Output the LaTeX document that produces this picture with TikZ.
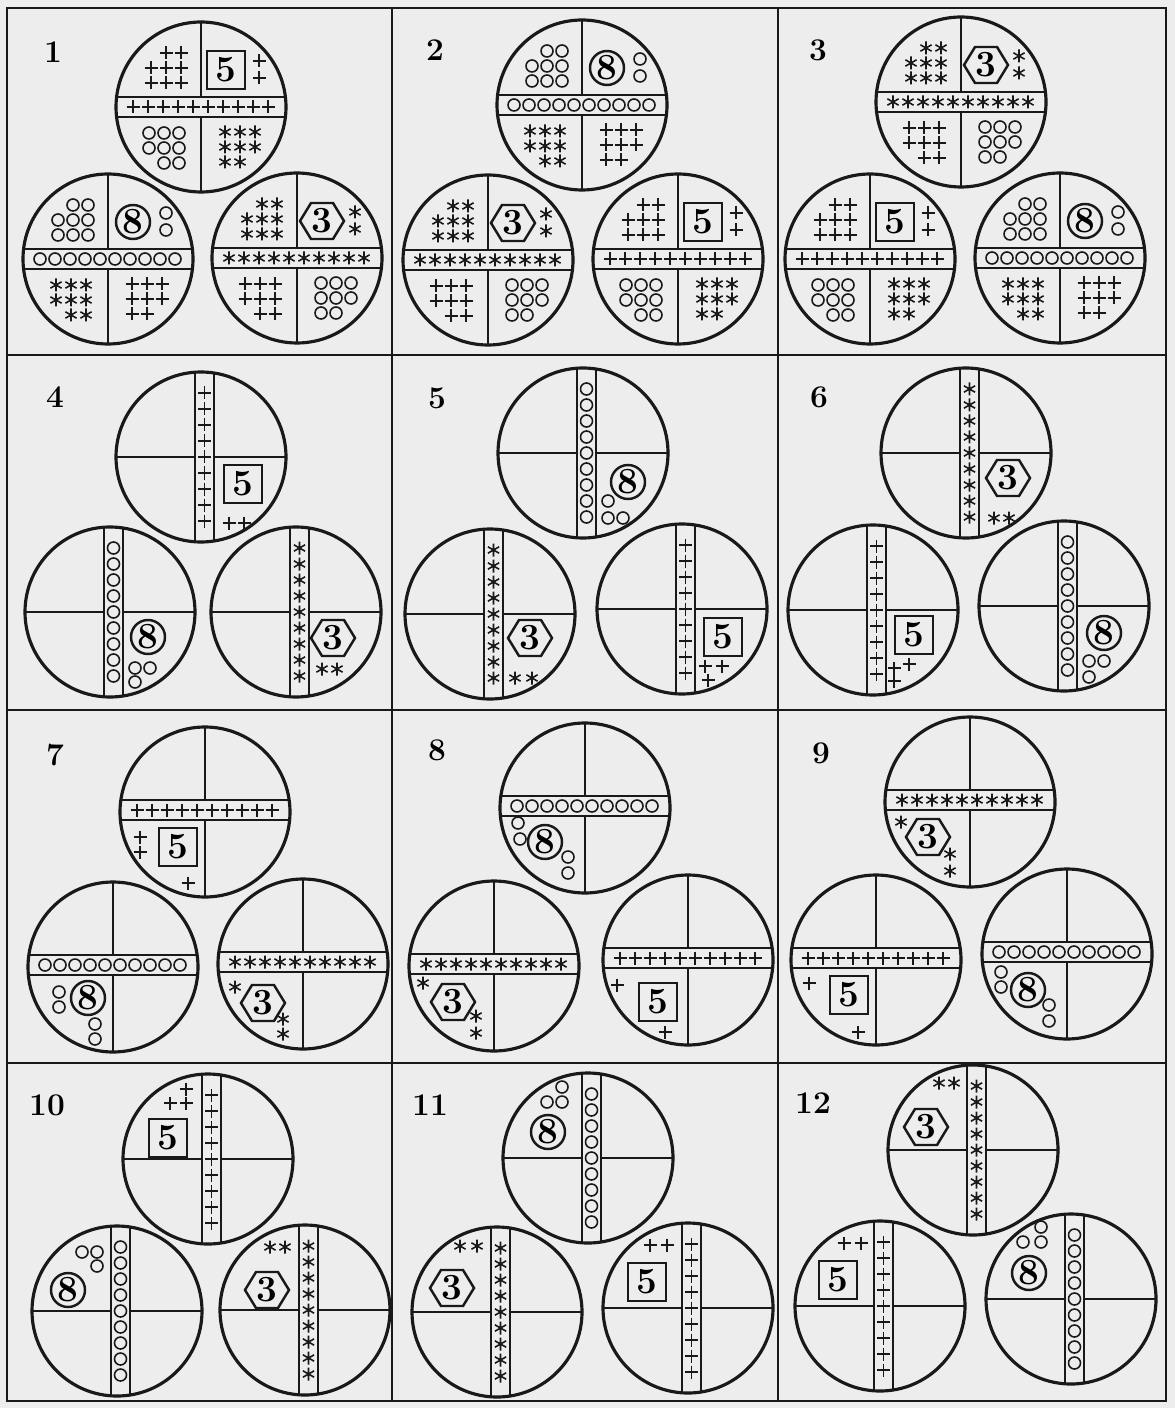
\documentclass[tikz,border=0pt]{standalone}
\usepackage{tikz}
\usetikzlibrary{calc}

% disc cut by a horizontal band (#2 = offset of the band from the centre)
\newcommand{\hdisc}[6]{%
  \begin{scope}[shift={#1}]
    \begin{scope}
      \clip (0,0) circle (85);
      \draw[bar] (-90,#2-10) -- (90,#2-10) (-90,#2+10) -- (90,#2+10)
        (0,-90) -- (0,#2-10) (0,#2+10) -- (0,90);
    \end{scope}
    \draw[rim] (0,0) circle (85);
    \foreach \i in {0,...,9} \pic at (-68+15*\i,#2) {#3};
    \pic at #5 {#4};
    \foreach \x/\y in {#6} \pic at (\x,\y) {#3};
  \end{scope}}

% disc cut by a vertical band just right of the centre
\newcommand{\vdisc}[5]{%
  \begin{scope}[shift={#1}]
    \begin{scope}
      \clip (0,0) circle (85);
      \draw[bar] (-6,-90) -- (-6,90) (13,-90) -- (13,90)
        (-90,0) -- (-6,0) (13,0) -- (90,0);
    \end{scope}
    \draw[rim] (0,0) circle (85);
    \foreach \i in {0,...,8} \pic at (3.5,-64+16*\i) {#2};
    \pic at #4 {#3};
    \foreach \x/\y in {#5} \pic at (\x,\y) {#2};
  \end{scope}}

% full disc of the first row: theme, badge, lower left, lower right
\newcommand{\qdisc}[5]{%
  \hdisc{#1}{0}{#2}{#3}{(25,-37)}{58/-46,58/-29}%
  \begin{scope}[shift={#1}]
    \foreach \x/\y in {-35/-54,-20/-54,-50/-39,-35/-39,-20/-39,-50/-24,-35/-24,-20/-24}
      \pic at (\x,\y) {#2};
    \foreach \x/\y in {-52/26,-37/26,-22/26,-52/41,-37/41,-22/41,-37/56,-22/56}
      \pic at (\x,\y) {#4};
    \foreach \x/\y in {24/25,39/25,54/25,24/40,39/40,54/40,24/55,39/55}
      \pic at (\x,\y) {#5};
  \end{scope}}

\begin{document}
\begin{tikzpicture}[x=0.02cm, y=-0.02cm,
  rim/.style={line width=1.8pt, black!90},
  bar/.style={line width=1.4pt, black!90},
  sym/.style={line width=0.9pt, black!90},
  frame/.style={line width=1.4pt, black!90},
  digit/.style={font=\fontsize{21}{21}\selectfont\bfseries, inner sep=0pt},
  num/.style={font=\fontsize{18}{18}\selectfont\bfseries, inner sep=0pt},
  plus/.pic={\draw[sym] (-6.5,0) -- (6.5,0) (0,-6.5) -- (0,6.5);},
  ring/.pic={\draw[sym] (0,0) circle (6);},
  star/.pic={\draw[sym] (0,-6.5) -- (0,6.5) (-5.6,-3.2) -- (5.6,3.2) (-5.6,3.2) -- (5.6,-3.2);},
  boxfive/.pic={\draw[bar] (-19,-19) rectangle (19,19); \node[digit] (five) {5};},
  ringeight/.pic={\draw[bar] (0,0) circle (17); \node[digit] (eight) {8};},
  hexthree/.pic={\draw[bar] (-22,0) -- (-11,-18) -- (11,-18) -- (22,0) -- (11,18)
    -- (-11,18) -- cycle; \node[digit] (three) {3};},
]
\useasboundingbox (0,0) rectangle (1175,1408);
\fill[black!7] (0,0) rectangle (1175,1408);

% frame of the twelve panels
\draw[frame] (7,8) rectangle (1166,1401);
\foreach \x in {392,778} \draw[frame] (\x,8) -- (\x,1401);
\foreach \y in {355,710,1063} \draw[frame] (7,\y) -- (1166,\y);

% panel numbers
\foreach \n/\x/\y in {1/53/52,2/435/50,3/818/50,4/55/397,5/437/398,6/819/397,
    7/55/755,8/437/750,9/821/753,10/47/1105,11/430/1105,12/813/1103}
  \node[num] (n\n) at (\x,\y) {\n};

% row 1
\qdisc{(201,107)}{plus}{boxfive}{ring}{star}
\qdisc{(108,259)}{ring}{ringeight}{star}{plus}
\qdisc{(297,258)}{star}{hexthree}{plus}{ring}
\qdisc{(582,105)}{ring}{ringeight}{star}{plus}
\qdisc{(488,260)}{star}{hexthree}{plus}{ring}
\qdisc{(678,259)}{plus}{boxfive}{ring}{star}
\qdisc{(961,102)}{star}{hexthree}{plus}{ring}
\qdisc{(870,259)}{plus}{boxfive}{ring}{star}
\qdisc{(1060,258)}{ring}{ringeight}{star}{plus}

% row 2
\vdisc{(201,457)}{plus}{boxfive}{(42,27)}{28/66,43/66}
\vdisc{(110,612)}{ring}{ringeight}{(38,25)}{25/56,40/56,25/70}
\vdisc{(296,612)}{star}{hexthree}{(37,26)}{26/57,41/57}
\vdisc{(583,453)}{ring}{ringeight}{(45,29)}{25/48,25/65,40/65}
\vdisc{(490,614)}{star}{hexthree}{(40,24)}{25/64,42/64}
\vdisc{(682,609)}{plus}{boxfive}{(41,28)}{23/57,40/57,26/71}
\vdisc{(966,453)}{star}{hexthree}{(42,25)}{28/65,43/65}
\vdisc{(873,610)}{plus}{boxfive}{(41,25)}{36/54,21/58,21/71}
\vdisc{(1064,606)}{ring}{ringeight}{(40,27)}{25/55,40/55,25/71}

% row 3
\hdisc{(205,812)}{-2}{plus}{boxfive}{(-27,35)}{-65/25,-65/40,-17/71}
\hdisc{(113,967)}{-2}{ring}{ringeight}{(-25,31)}{-54/25,-54/40,-18/57,-18/72}
\hdisc{(303,964)}{-2}{star}{hexthree}{(-40,39)}{-68/23,-20/55,-20/70}
\hdisc{(585,808)}{-2}{ring}{ringeight}{(-40,34)}{-67/15,-65/31,-17/49,-17/65}
\hdisc{(494,966)}{-2}{star}{hexthree}{(-41,36)}{-71/17,-18/50,-18/67}
\hdisc{(688,960)}{-2}{plus}{boxfive}{(-30,42)}{-71/25,-23/72}
\hdisc{(970,802)}{-2}{star}{hexthree}{(-42,35)}{-69/20,-20/52,-20/69}
\hdisc{(876,960)}{-2}{plus}{boxfive}{(-27,35)}{-67/23,-18/72}
\hdisc{(1067,954)}{-2}{ring}{ringeight}{(-39,36)}{-66/18,-66/33,-18/51,-18/67}

% row 4
\vdisc{(208,1159)}{plus}{boxfive}{(-40,-21)}{-38/-56,-22/-56,-22/-70}
\vdisc{(117,1311)}{ring}{ringeight}{(-49,-21)}{-35/-59,-20/-59,-20/-45}
\vdisc{(305,1310)}{star}{hexthree}{(-38,-20)}{-35/-63,-20/-63}
\vdisc{(588,1158)}{ring}{ringeight}{(-40,-26)}{-41/-56,-26/-56,-26/-71}
\vdisc{(497,1312)}{star}{hexthree}{(-45,-24)}{-37/-66,-20/-66}
\vdisc{(688,1308)}{plus}{boxfive}{(-41,-26)}{-38/-63,-21/-63}
\vdisc{(973,1150)}{star}{hexthree}{(-47,-23)}{-34/-67,-19/-67}
\vdisc{(880,1306)}{plus}{boxfive}{(-42,-26)}{-36/-63,-19/-63}
\vdisc{(1071,1299)}{ring}{ringeight}{(-42,-26)}{-48/-57,-30/-57,-30/-72}
\end{tikzpicture}
\end{document}
